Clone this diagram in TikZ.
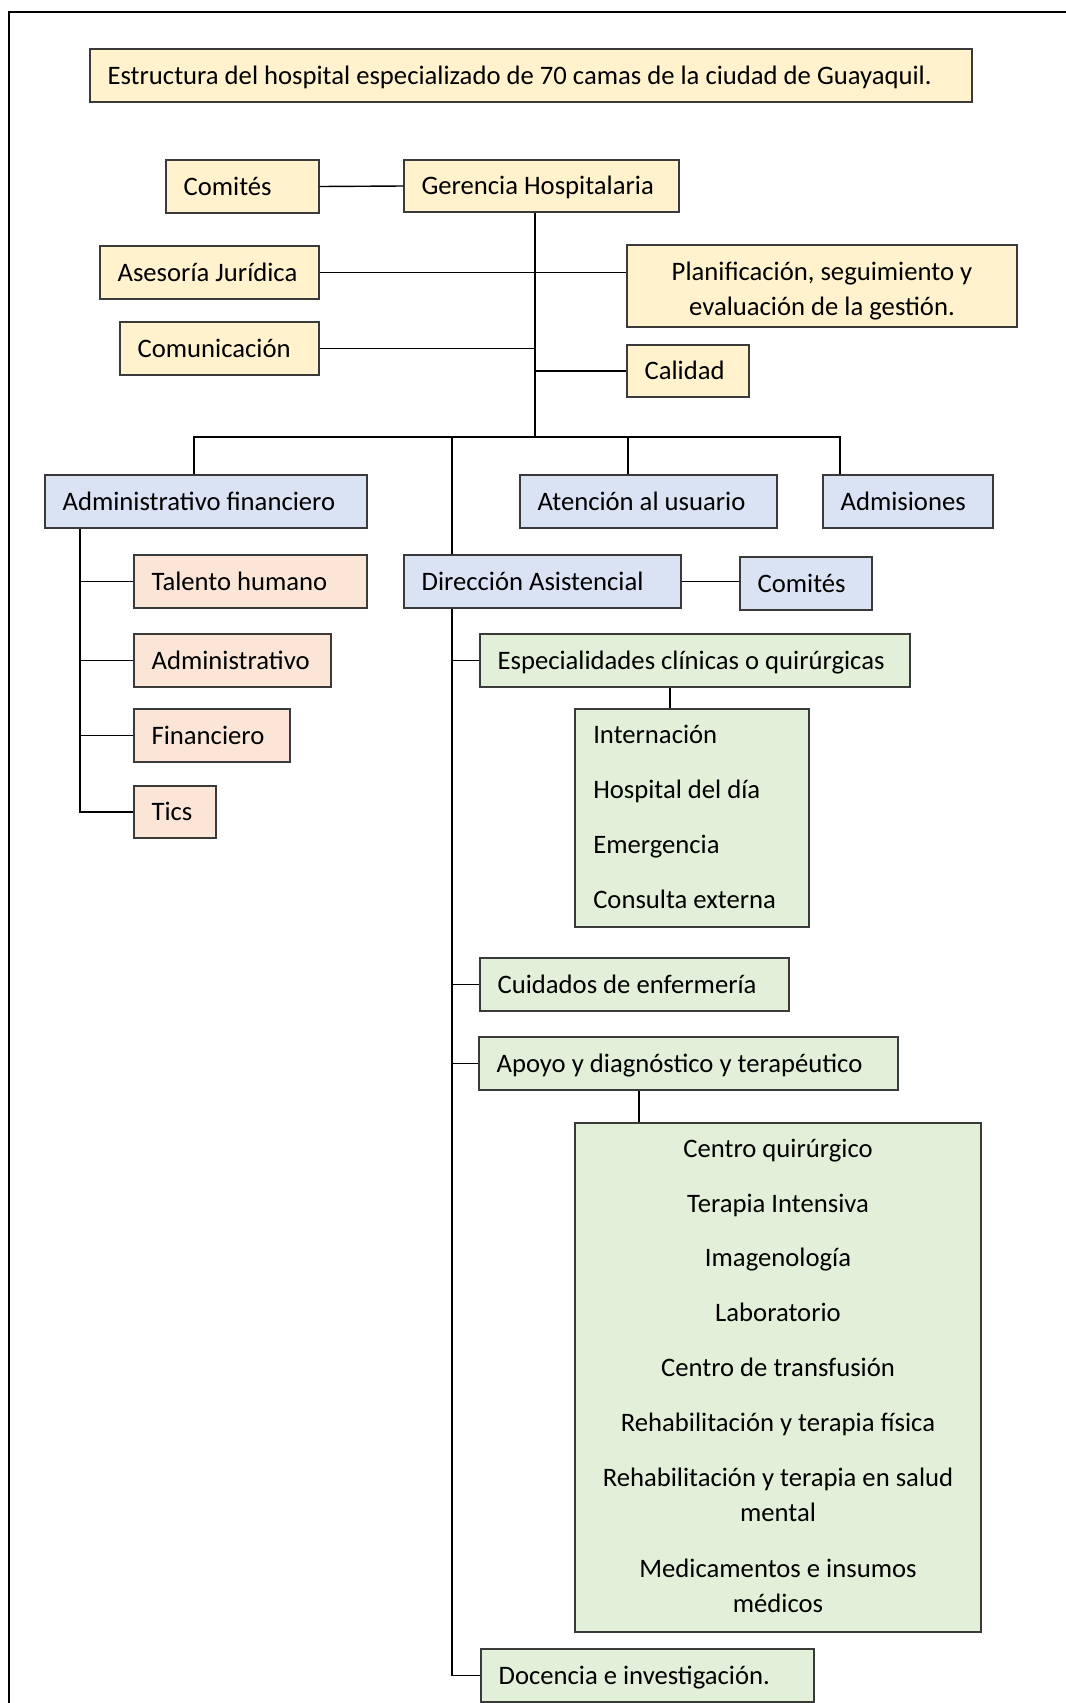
\documentclass[tikz,border=0pt]{standalone}
\usepackage{fontspec}
\setmainfont{Carlito}
\usetikzlibrary{fit}
\definecolor{cy}{HTML}{FFF2CC}
\definecolor{cb}{HTML}{DAE3F3}
\definecolor{cp}{HTML}{FBE5D6}
\definecolor{cg}{HTML}{E2F0D9}
\definecolor{bd}{HTML}{3A3A3A}
\begin{document}
\begin{tikzpicture}[x=0.75pt,y=-0.75pt,
  bx/.style={draw=bd, line width=1pt, inner sep=0pt, rectangle},
  tx/.style={anchor=base west, inner sep=0pt, font=\fontsize{20}{26.25}\selectfont},
  tc/.style={anchor=base, inner sep=0pt, align=center, font=\fontsize{20}{26.25}\selectfont},
  ln/.style={draw=black, line width=1.05pt},
  framest/.style={line width=1.5pt}]
\useasboundingbox (0,0) rectangle (1065,1703);
\fill[white] (0,0) rectangle (1065,1703);
\draw[framest] (9,1710) -- (9,12) -- (1070,12);

% boxes
\node[bx, fill=cy, fit={(90,49)(972,102)}] (tit) {};
\node[bx, fill=cy, fit={(166,160)(319,213)}] (com1) {};
\node[bx, fill=cy, fit={(404,160)(679,212)}] (ger) {};
\node[bx, fill=cy, fit={(100,246)(319,299)}] (ase) {};
\node[bx, fill=cy, fit={(627,245)(1017,327)}] (pla) {};
\node[bx, fill=cy, fit={(120,322)(319,375)}] (comu) {};
\node[bx, fill=cy, fit={(627,345)(749,397)}] (cal) {};
\node[bx, fill=cb, fit={(45,475)(367,528)}] (adf) {};
\node[bx, fill=cb, fit={(520,475)(777,528)}] (ate) {};
\node[bx, fill=cb, fit={(823,475)(993,528)}] (adm) {};
\node[bx, fill=cb, fit={(404,555)(681,608)}] (dir) {};
\node[bx, fill=cb, fit={(740,557)(872,610)}] (com2) {};
\node[bx, fill=cp, fit={(134,555)(367,608)}] (tal) {};
\node[bx, fill=cp, fit={(134,634)(331,687)}] (adt) {};
\node[bx, fill=cp, fit={(134,709)(290,762)}] (fin) {};
\node[bx, fill=cp, fit={(134,786)(216,838)}] (tic) {};
\node[bx, fill=cg, fit={(480,634)(910,687)}] (esp) {};
\node[bx, fill=cg, fit={(575,709)(809,927)}] (sub1) {};
\node[bx, fill=cg, fit={(480,958)(789,1011)}] (cui) {};
\node[bx, fill=cg, fit={(479,1037)(898,1090)}] (apo) {};
\node[bx, fill=cg, fit={(575,1123)(981,1632)}] (sub2) {};
\node[bx, fill=cg, fit={(481,1649)(814,1702)}] (doc) {};

% texts
\node[tx] (tit-t) at ([shift={(18,8.6)}]tit.west) {Estructura del hospital especializado de 70 camas de la ciudad de Guayaquil.};
\node[tx] (com1-t) at ([shift={(18,8.6)}]com1.west) {Comités};
\node[tx] (ger-t) at ([shift={(18,8.6)}]ger.west) {Gerencia Hospitalaria};
\node[tx] (ase-t) at ([shift={(18,8.6)}]ase.west) {Asesoría Jurídica};
\node[tc] (pla-t) at (822,315.6) {Planificación, seguimiento y\\evaluación de la gestión.};
\node[tx] (comu-t) at ([shift={(18,8.6)}]comu.west) {Comunicación};
\node[tx] (cal-t) at ([shift={(18,8.6)}]cal.west) {Calidad};
\node[tx] (adf-t) at ([shift={(18,8.6)}]adf.west) {Administrativo financiero};
\node[tx] (ate-t) at ([shift={(18,8.6)}]ate.west) {Atención al usuario};
\node[tx] (adm-t) at ([shift={(18,8.6)}]adm.west) {Admisiones};
\node[tx] (dir-t) at ([shift={(18,8.6)}]dir.west) {Dirección Asistencial};
\node[tx] (com2-t) at ([shift={(18,8.6)}]com2.west) {Comités};
\node[tx] (tal-t) at ([shift={(18,8.6)}]tal.west) {Talento humano};
\node[tx] (adt-t) at ([shift={(18,8.6)}]adt.west) {Administrativo};
\node[tx] (fin-t) at ([shift={(18,8.6)}]fin.west) {Financiero};
\node[tx] (tic-t) at ([shift={(18,8.6)}]tic.west) {Tics};
\node[tx] (esp-t) at ([shift={(18,8.6)}]esp.west) {Especialidades clínicas o quirúrgicas};
\node[tx] (cui-t) at ([shift={(18,8.6)}]cui.west) {Cuidados de enfermería};
\node[tx] (apo-t) at ([shift={(18,8.6)}]apo.west) {Apoyo y diagnóstico y terapéutico};
\node[tx] (doc-t) at ([shift={(18,8.6)}]doc.west) {Docencia e investigación.};

\node[tx] (s1a) at (593,743.6) {Internación};
\node[tx] (s1b) at (593,798.6) {Hospital del día};
\node[tx] (s1c) at (593,853.6) {Emergencia};
\node[tx] (s1d) at (593,908.6) {Consulta externa};

\node[tc] (s2a) at (778,1157.6) {Centro quirúrgico};
\node[tc] (s2b) at (778,1212.6) {Terapia Intensiva};
\node[tc] (s2c) at (778,1266.6) {Imagenología};
\node[tc] (s2d) at (778,1321.6) {Laboratorio};
\node[tc] (s2e) at (778,1376.6) {Centro de transfusión};
\node[tc] (s2f) at (778,1431.6) {Rehabilitación y terapia física};
\node[tc] (s2g) at (778,1521.6) {Rehabilitación y terapia en salud\\mental};
\node[tc] (s2h) at (778,1612.6) {Medicamentos e insumos\\médicos};

% connector coordinates
\coordinate (busT) at (535,437);
\coordinate (busL) at (194,437);
\coordinate (busR) at (840,437);
\coordinate (ateD) at (628,437);
\coordinate (dirD) at (452,437);
\coordinate (lx) at (80,0);
\coordinate (s1x) at (670,0);
\coordinate (s2x) at (639,0);

% connectors
\draw[ln] (com1.east) -- (ger.west);
\draw[ln] (busT |- ger.south) -- (busT);
\draw[ln] (ase.east) -- (pla.west |- ase.east);
\draw[ln] (comu.east) -- (busT |- comu.east);
\draw[ln] (busT |- cal.west) -- (cal.west);
\draw[ln] (busL |- adf.north) -- (busL) -- (busR) -- (busR |- adm.north);
\draw[ln] (ateD) -- (ateD |- ate.north);
\draw[ln] (dirD) -- (dirD |- dir.north);
\draw[ln] (lx |- adf.south) -- (lx |- tic.west) -- (tic.west);
\draw[ln] (lx |- tal.west) -- (tal.west);
\draw[ln] (lx |- adt.west) -- (adt.west);
\draw[ln] (lx |- fin.west) -- (fin.west);
\draw[ln] (dir.east) -- (com2.west |- dir.east);
\draw[ln] (dirD |- dir.south) -- (dirD |- doc.west) -- (doc.west);
\draw[ln] (dirD |- esp.west) -- (esp.west);
\draw[ln] (dirD |- cui.west) -- (cui.west);
\draw[ln] (dirD |- apo.west) -- (apo.west);
\draw[ln] (s1x |- esp.south) -- (s1x |- sub1.north);
\draw[ln] (s2x |- apo.south) -- (s2x |- sub2.north);
\end{tikzpicture}
\end{document}
